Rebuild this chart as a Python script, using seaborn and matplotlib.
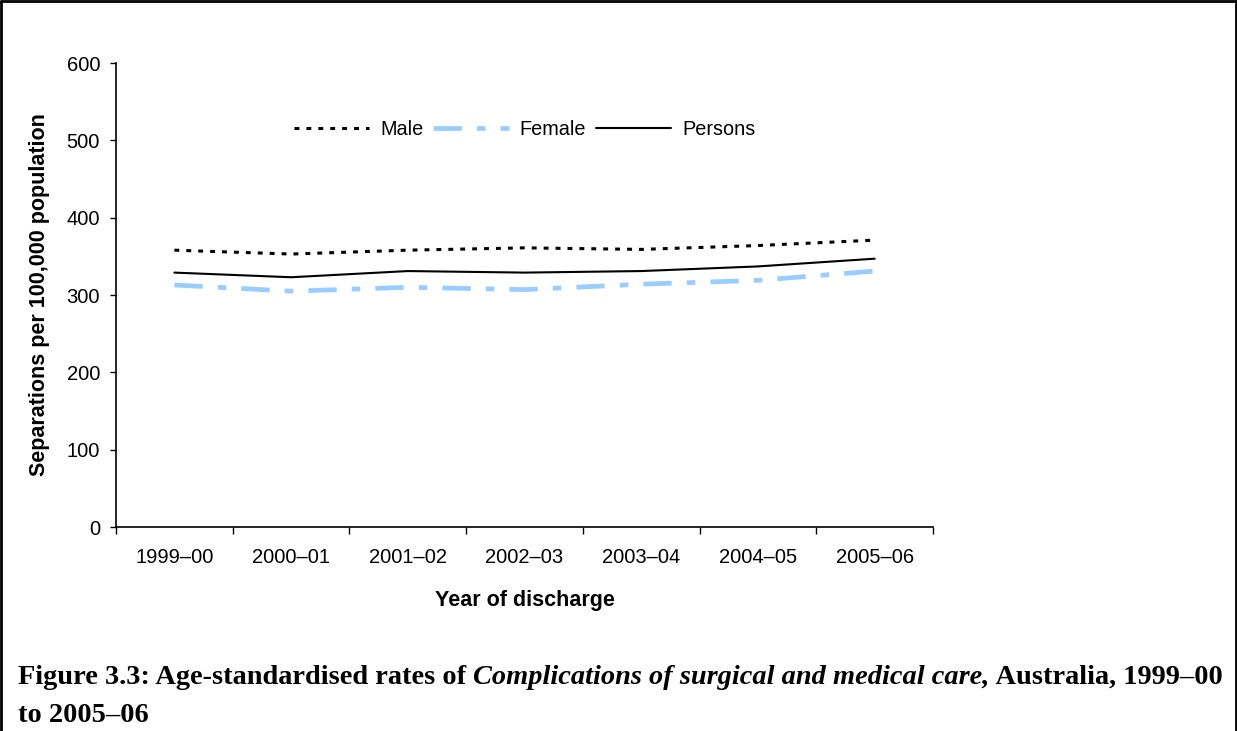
import matplotlib
matplotlib.use("Agg")
import matplotlib.pyplot as plt
from matplotlib.lines import Line2D
from matplotlib.ticker import FixedLocator, NullFormatter
import seaborn as sns
import pandas as pd

years = ["1999–00", "2000–01", "2001–02", "2002–03", "2003–04", "2004–05", "2005–06"]
male = [358, 353, 358, 361, 359, 364, 371]
female = [313, 305, 310, 307, 314, 319, 331]
persons = [329, 323, 331, 329, 331, 337, 347]
y_ticks = [0, 100, 200, 300, 400, 500, 600]

sns.set_theme(style="white")
plt.rcParams["font.family"] = ["Liberation Sans", "DejaVu Sans"]
plt.rcParams["text.color"] = "black"
plt.rcParams["axes.labelcolor"] = "black"
plt.rcParams["xtick.color"] = "black"
plt.rcParams["ytick.color"] = "black"

fig = plt.figure(figsize=(12.37, 7.31), dpi=100)
ax = fig.add_axes([0.0938, 0.279, 0.6605, 0.6348])

df = pd.DataFrame({"year": years, "Male": male, "Female": female, "Persons": persons})
pos = list(range(len(years)))

sns.lineplot(x=pos, y=df["Male"], ax=ax, color="black", lw=2.2,
             linestyle=(0, (1.6, 2.3)), label="Male")
sns.lineplot(x=pos, y=df["Female"], ax=ax, color="#99ccff", lw=3.4,
             linestyle=(0, (6.0, 3.2, 1.8, 3.2)), label="Female")
sns.lineplot(x=pos, y=df["Persons"], ax=ax, color="black", lw=1.5,
             linestyle="-", label="Persons")

ax.set_xlim(-0.5, len(years) - 0.5)
ax.set_ylim(0, 600)
ax.set_yticks(y_ticks)
ax.set_yticklabels([str(v) for v in y_ticks], fontsize=14.5)

ax.set_xticks(pos)
ax.set_xticklabels(years, fontsize=14.5)
ax.xaxis.set_minor_locator(FixedLocator([p - 0.5 for p in pos] + [len(years) - 0.5]))
ax.xaxis.set_minor_formatter(NullFormatter())
ax.tick_params(axis="x", which="major", length=0, pad=15)
ax.tick_params(axis="x", which="minor", length=5, width=1, color="black", direction="out", bottom=True)
ax.tick_params(axis="y", length=4, width=1, color="black", direction="out", left=True, pad=7.5)

for s in ["top", "right"]:
    ax.spines[s].set_visible(False)
for s in ["left", "bottom"]:
    ax.spines[s].set_color("black")
    ax.spines[s].set_linewidth(1.2)

ax.set_ylabel("Separations per 100,000 population", fontsize=15.5, fontweight="bold", labelpad=12)
ax.set_xlabel("Year of discharge", fontsize=15.5, fontweight="bold", labelpad=17)

leg = ax.legend(loc="center", bbox_to_anchor=(0.5, 0.856), ncol=3, frameon=False,
                fontsize=14.3, handlelength=3.8, handletextpad=0.55, columnspacing=0.5)

# page frame
for xs, ys in [([0.001, 0.001], [0, 0.998]), ([0.001, 0.999], [0.998, 0.998]), ([0.999, 0.999], [0, 0.998])]:
    fig.add_artist(Line2D(xs, ys, transform=fig.transFigure, color="black", lw=2))

# caption with mixed bold / bold italic pieces
serif = ["Liberation Serif", "DejaVu Serif"]
pieces = [("Figure 3.3: Age-standardised rates of ", "normal"),
          ("Complications of surgical and medical care,", "italic"),
          (" Australia, 1999–00", "normal")]
fig.canvas.draw()
renderer = fig.canvas.get_renderer()
x = 18
for txt, style in pieces:
    t = fig.text(x / 1237, 1 - 684 / 731, txt, fontsize=20.4, fontweight="bold",
                 fontstyle=style, family=serif, ha="left", va="baseline")
    bb = t.get_window_extent(renderer)
    x += bb.width
fig.text(18 / 1237, 1 - 722 / 731, "to 2005–06", fontsize=20.4, fontweight="bold",
         family=serif, ha="left", va="baseline")

fig.savefig("out.png", dpi=100)
